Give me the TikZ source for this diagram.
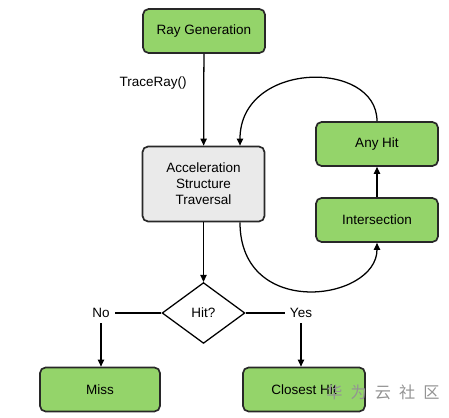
\documentclass[tikz,border=0pt]{standalone}
\usepackage{fontspec}
\setmainfont{Liberation Sans}
\newfontfamily\cjk{Noto Sans CJK SC}
\usetikzlibrary{calc, arrows.meta, shapes.geometric}

\definecolor{stagegreen}{RGB}{148,212,106}
\definecolor{travgray}{RGB}{234,234,234}
\definecolor{edgedark}{RGB}{40,40,40}

\begin{document}
\begin{tikzpicture}[x=0.025cm, y=-0.025cm, line width=0.9pt,
    font=\fontsize{9.6}{11.5}\selectfont,
    stage/.style={draw=edgedark, line width=1.2pt, fill=stagegreen, rounded corners=4pt,
                  minimum width=3.05cm, minimum height=1.1cm, align=center},
    trav/.style={stage, fill=travgray, minimum height=1.875cm},
    test/.style={draw, diamond, inner sep=1pt, minimum width=2.07cm, minimum height=1.52cm},
    flow/.style={-{Triangle[length=5pt, width=4.5pt]}}]
  \useasboundingbox (0,0) rectangle (449,418);

  \node[stage] (raygen) at (204,31)    {Ray Generation};
  \node[trav]  (ats)    at (203.5,184) {Acceleration\\Structure\\Traversal};
  \node[stage] (anyhit) at (377,144)   {Any Hit};
  \node[stage] (isect)  at (377,220)   {Intersection};
  \node[test]  (hit)    at (203.5,313) {Hit?};
  \node        (no)     at (101,313)   {No};
  \node        (yes)    at (301,313)   {Yes};
  \node[stage, minimum width=3cm] (miss) at (100,389.5) {Miss};
  \node[stage] (closest) at (304,389.5) {Closest Hit};

  % TraceRay() sits left of the first arrow
  \node[anchor=east] (trace) at (192,83) {TraceRay()};

  \coordinate (atsin)  at ($(ats.north)+(36.5,0)$);
  \coordinate (atsout) at ($(ats.south)+(36.5,0)$);

  \draw[flow] (raygen) -- (ats);
  \draw[flow] (anyhit.north) .. controls +(0,-62) and +(0,-85) .. (atsin);
  \draw[flow] (atsout) .. controls +(0,98) and +(0,58) .. (isect.south);
  \draw[flow] (isect) -- (anyhit);
  \draw[flow] (ats) -- (hit);

  \draw (hit.west) -- (no.east);
  \draw (hit.east) -- (yes.west);
  \draw[flow] (no.south) -- (no.south |- miss.north);
  \draw[flow] (yes.south) -- (yes.south |- closest.north);

  % watermark
  \node[text=gray!85, font=\cjk\fontsize{11.5}{13}\selectfont] (mark) at (383,392)
    {华\hspace{0.5em}为\hspace{0.5em}云\hspace{0.5em}社\hspace{0.5em}区};
\end{tikzpicture}
\end{document}
